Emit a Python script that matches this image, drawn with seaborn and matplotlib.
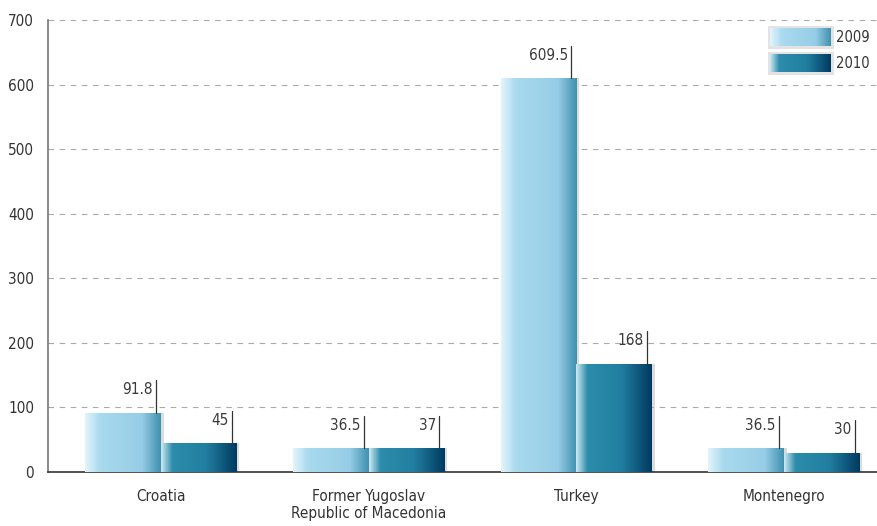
import numpy as np
import pandas as pd
import matplotlib
matplotlib.use("Agg")
import matplotlib.pyplot as plt
import seaborn as sns
from matplotlib.colors import LinearSegmentedColormap
from matplotlib.patches import Rectangle

# chart data
countries = ["Croatia", "Former Yugoslav\nRepublic of Macedonia", "Turkey", "Montenegro"]
years = ["2009", "2010"]
values_2009 = [91.8, 36.5, 609.5, 36.5]
values_2010 = [45, 37, 168, 30]
value_labels_2009 = ["91.8", "36.5", "609.5", "36.5"]
value_labels_2010 = ["45", "37", "168", "30"]

df = pd.DataFrame({
    "country": countries * 2,
    "year": [years[0]] * 4 + [years[1]] * 4,
    "value": values_2009 + values_2010,
    "label": value_labels_2009 + value_labels_2010,
})

sns.set_style("white")
plt.rcParams["font.family"] = ["DejaVu Sans"]
plt.rcParams["font.stretch"] = "condensed"

cmaps = {
    "2009": LinearSegmentedColormap.from_list(
        "c09", [(0, "#e4f4fb"), (0.2, "#a9daef"), (0.75, "#96cde6"), (1, "#3f91b0")]),
    "2010": LinearSegmentedColormap.from_list(
        "c10", [(0, "#cfeaf2"), (0.15, "#2d8cab"), (0.6, "#217ea0"), (1, "#003a60")]),
}
mid_colors = {"2009": "#a3d6ec", "2010": "#1f7d9f"}

fig = plt.figure(figsize=(8.77, 5.26), dpi=100)
ax = fig.add_axes([0.0547, 0.1027, 0.9453, 0.8593])

sns.barplot(data=df, x="country", y="value", hue="year", order=countries,
            hue_order=years, palette=mid_colors, width=0.73, gap=0,
            legend=False, ax=ax, zorder=3)

grad = np.linspace(0, 1, 256).reshape(1, -1)
for cont, year in zip(ax.containers, years):
    labels = df[df["year"] == year]["label"].tolist()
    for bar, lab in zip(cont, labels):
        x0, w, h = bar.get_x(), bar.get_width(), bar.get_height()
        bar.set_facecolor("none")
        bar.set_edgecolor("none")
        # soft shadow on the right side
        ax.add_patch(Rectangle((x0 + w, 0), 0.012, h, facecolor="#bbbbbb",
                               edgecolor="none", alpha=0.5, zorder=2))
        im = ax.imshow(grad, cmap=cmaps[year], aspect="auto",
                       extent=(x0, x0 + w, 0, h), zorder=3)
        im.set_clip_path(bar)
        xr = x0 + w * 0.93
        ax.plot([xr, xr], [h, h + 50], color="#333333", lw=0.9, zorder=4)
        ax.text(xr - 0.015, h + 47, lab, ha="right", va="top",
                fontsize=11, color="#3a3a3a", zorder=4)

ax.set_aspect("auto")
ax.set_xlim(-0.545, 3.447)
ax.set_ylim(0, 700)

ax.set_yticks(range(0, 701, 100))
ax.yaxis.grid(True, linestyle=(0, (5, 5)), color="#aaaaaa", lw=0.8)
ax.set_axisbelow(True)
for s in ["top", "right"]:
    ax.spines[s].set_visible(False)
ax.spines["left"].set_color("#777777")
ax.spines["left"].set_linewidth(1.2)
ax.spines["bottom"].set_color("#333333")
ax.spines["bottom"].set_linewidth(1.2)
ax.tick_params(axis="y", direction="out", length=7, width=1, color="#333333",
               labelsize=11, labelcolor="#333333", pad=3)
ax.tick_params(axis="x", length=0, labelsize=11, labelcolor="#333333", pad=12)
ax.set_xlabel("")
ax.set_ylabel("")

# legend with gradient swatches
for i, year in enumerate(years):
    yb = 0.942 - i * 0.057
    ax.add_patch(Rectangle((0.868, yb - 0.007), 0.08, 0.052, transform=ax.transAxes,
                           facecolor="#d8d8d8", edgecolor="none", alpha=0.7, zorder=5))
    ax.imshow(grad, cmap=cmaps[year], aspect="auto", transform=ax.transAxes,
              extent=(0.871, 0.944, yb, yb + 0.038), zorder=6)
    ax.text(0.951, yb + 0.019, year, transform=ax.transAxes, ha="left",
            va="center", fontsize=10.5, color="#333333", zorder=6)

ax.set_xlim(-0.545, 3.447)
ax.set_ylim(0, 700)

fig.savefig("out.png", dpi=100)
